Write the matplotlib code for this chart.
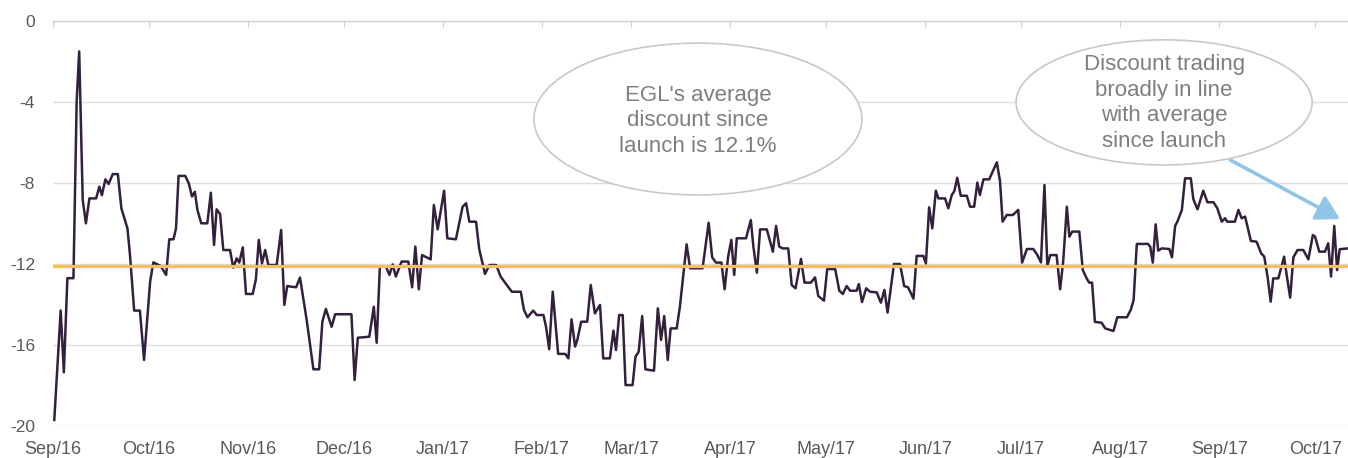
import matplotlib
matplotlib.use("Agg")
import matplotlib.pyplot as plt
from matplotlib.patches import Ellipse
import numpy as np
import pandas as pd

# Data: days since 1 Sep 2016, discount to NAV (%)
START = pd.Timestamp("2016-09-01")
days = [
    0.4, 2.4, 3.4, 4.5, 6.4, 7.4, 8.2, 9.3, 10.3, 11.4, 13.5, 14.5, 15.3, 16.4, 17.4,
    18.7, 20.3, 21.4, 23.3, 24.1, 25.4, 27.2, 28.5, 30.4, 31.4, 33.7, 35.4, 36.4, 37.7,
    38.5, 39.3, 41.4, 42.5, 43.5, 44.4, 45.2, 46.4, 48.3, 49.4, 50.4, 51.2, 52.3, 53.3,
    55.4, 56.4, 57.5, 58.3, 59.4, 60.4, 62.5, 63.5, 64.4, 65.4, 66.4, 67.4, 70.0, 71.4,
    72.4, 73.3, 76.1, 77.3, 79.4, 81.5, 83.3, 84.3, 85.4, 87.2, 88.3, 93.4, 94.4, 95.4,
    99.0, 100.4, 101.3, 102.3, 104.2, 105.3, 106.3, 107.3, 109.1, 111.2, 112.4, 113.4,
    114.5, 115.5, 118.2, 119.2, 120.4, 122.4, 123.4, 126.1, 128.2, 129.3, 130.3, 132.4,
    133.4, 135.2, 136.6, 138.7, 140.1, 141.8, 143.6, 146.4, 147.4, 148.5, 150.3, 151.4,
    153.5, 154.3, 155.3, 156.4, 158.1, 160.3, 161.3, 162.3, 163.4, 164.1, 165.3, 167.2,
    168.3, 169.6, 171.2, 172.2, 174.3, 175.4, 176.2, 177.2, 178.3, 179.2, 181.4, 182.3,
    183.3, 184.4, 185.4, 188.1, 189.3, 190.3, 191.3, 192.4, 193.3, 195.2, 196.2, 198.3,
    199.4, 203.3, 205.2, 206.3, 207.5, 209.2, 210.2, 211.3, 212.3, 213.2, 214.0, 216.9,
    218.4, 219.2, 220.3, 221.3, 223.4, 225.3, 226.3, 227.3, 228.4, 230.1, 231.2, 232.4,
    234.1, 235.2, 237.2, 238.5, 239.5, 241.3, 242.3, 244.8, 246.1, 247.2, 248.4, 249.5,
    251.5, 252.2, 253.2, 254.5, 255.7, 257.8, 259.1, 260.2, 261.2, 263.2, 265.1, 266.4,
    267.6, 269.3, 270.3, 272.4, 273.2, 274.2, 275.2, 276.3, 277.1, 279.2, 280.2, 281.3,
    282.1, 283.0, 284.1, 286.0, 287.0, 288.3, 289.3, 290.1, 291.2, 293.0, 294.1, 295.4,
    296.4, 297.2, 298.5, 300.4, 302.1, 303.3, 304.8, 306.8, 308.1, 309.2, 310.3, 311.2,
    312.1, 314.1, 315.2, 316.2, 317.3, 318.1, 319.0, 321.2, 322.3, 323.5, 324.3, 325.2,
    326.1, 328.2, 329.3, 331.9, 333.1, 336.1, 337.3, 338.2, 339.2, 341.5, 342.6, 343.4,
    344.2, 345.1, 345.9, 347.0, 349.4, 350.2, 351.2, 351.9, 353.3, 354.3, 356.1, 356.9,
    358.2, 360.0, 361.3, 363.2, 364.4, 365.8, 366.8, 367.5, 369.9, 371.0, 372.0, 373.1,
    374.9, 376.7, 378.1, 379.1, 380.2, 381.1, 381.9, 383.5, 385.3, 386.1, 387.2, 388.2,
    389.5, 391.3, 392.9, 394.3, 395.0, 396.3, 398.1, 399.1, 400.0, 401.0, 401.9, 402.7,
    405.2,
]
discount = [
    -19.7, -14.3, -17.35, -12.7, -12.7, -4.0, -1.5, -8.84, -9.99, -8.76, -8.76, -8.18,
    -8.6, -7.82, -8.05, -7.56, -7.56, -9.25, -10.24, -11.56, -14.3, -14.3, -16.74,
    -12.87, -11.92, -12.1, -12.54, -10.78, -10.78, -10.24, -7.65, -7.65, -8.02, -8.67,
    -8.43, -9.33, -9.99, -9.99, -8.48, -11.06, -9.3, -9.53, -11.31, -11.31, -12.18,
    -11.72, -11.93, -11.18, -13.48, -13.48, -12.76, -10.81, -11.97, -11.31, -12.05,
    -12.05, -10.32, -14.02, -13.09, -13.15, -12.67, -14.77, -17.2, -17.2, -14.85,
    -14.22, -15.1, -14.48, -14.48, -17.73, -15.64, -15.59, -14.11, -15.89, -12.13,
    -12.13, -12.54, -12.02, -12.62, -11.88, -11.88, -13.15, -11.14, -13.25, -11.56,
    -11.77, -9.09, -10.29, -8.38, -10.73, -10.78, -9.17, -9.0, -9.91, -9.91, -11.27,
    -12.49, -12.05, -12.05, -12.62, -12.99, -13.37, -13.37, -14.27, -14.63, -14.3,
    -14.52, -14.52, -15.1, -16.21, -13.37, -16.44, -16.44, -16.66, -14.73, -16.08,
    -15.75, -14.85, -14.85, -13.04, -14.44, -14.02, -16.66, -16.66, -15.29, -16.25,
    -14.52, -14.52, -17.98, -17.98, -16.58, -16.33, -14.57, -17.2, -17.27, -14.19,
    -15.75, -14.57, -16.74, -15.18, -15.18, -14.11, -11.03, -12.21, -12.21, -9.96,
    -11.67, -11.93, -11.93, -13.25, -11.64, -10.81, -12.54, -10.73, -10.73, -9.83,
    -11.14, -12.43, -10.29, -10.29, -11.39, -10.12, -11.14, -11.23, -11.23, -13.04,
    -13.2, -11.75, -12.92, -12.92, -12.66, -13.58, -13.81, -12.25, -12.25, -13.32,
    -13.48, -13.09, -13.32, -13.32, -12.99, -13.88, -13.2, -13.37, -13.4, -13.91,
    -13.28, -14.4, -12.0, -12.0, -13.09, -13.15, -13.71, -11.6, -11.6, -11.97, -9.2,
    -10.24, -8.38, -8.76, -8.76, -9.25, -8.59, -8.4, -7.74, -8.63, -8.63, -9.17,
    -9.17, -7.98, -8.59, -7.82, -7.82, -7.44, -6.98, -7.93, -9.91, -9.58, -9.58,
    -9.33, -11.93, -11.26, -11.26, -11.56, -11.92, -8.1, -12.1, -11.56, -11.56,
    -13.25, -11.8, -9.17, -10.65, -10.4, -10.4, -12.3, -12.71, -12.92, -12.92,
    -14.86, -14.9, -15.18, -15.31, -14.63, -14.63, -14.27, -13.78, -11.01, -11.01,
    -11.0, -11.14, -11.93, -10.04, -11.34, -11.23, -11.26, -11.67, -10.12, -9.91,
    -9.33, -7.77, -7.77, -8.8, -9.3, -8.38, -8.95, -8.95, -9.25, -9.91, -9.74, -9.91,
    -9.91, -9.33, -9.74, -9.66, -10.86, -10.9, -11.47, -11.64, -12.71, -13.86,
    -12.71, -12.71, -11.64, -12.54, -13.66, -11.67, -11.31, -11.31, -11.77, -10.57,
    -10.65, -11.39, -11.39, -10.98, -12.62, -10.12, -12.3, -11.27, -11.23,
]
AVERAGE = -12.1
X_END_DAY = 405.3

month_ticks = pd.date_range("2016-09-01", "2017-10-01", freq="MS")
month_labels = [d.strftime("%b/%y") for d in month_ticks]

dates = START + pd.to_timedelta(days, unit="D")

plt.rcParams["font.family"] = ["Liberation Sans", "DejaVu Sans"]
plt.rcParams["axes.unicode_minus"] = False

fig = plt.figure(figsize=(13.48, 4.58), dpi=100)
ax = fig.add_axes([53 / 1348, 32 / 458, 1295 / 1348, 405 / 458])

ax.plot(dates, discount, color="#33203d", linewidth=1.8, zorder=3)
ax.axhline(AVERAGE, color="#FCC632", linewidth=2.3, zorder=4)

ax.set_ylim(-20, 0)
ax.set_yticks(np.arange(-20, 1, 4))
ax.set_xlim(START, START + pd.Timedelta(days=X_END_DAY))
ax.set_xticks(month_ticks)
ax.set_xticklabels(month_labels)

ax.grid(axis="y", color="#dedede", linewidth=1.0, zorder=0)
ax.set_axisbelow(True)
for side in ["left", "right", "bottom"]:
    ax.spines[side].set_visible(False)
ax.spines["top"].set_color("#d0d0d0")
ax.spines["top"].set_linewidth(1.0)

ax.tick_params(axis="x", bottom=False, top=True, labelbottom=True, labeltop=False,
               direction="in", length=4, color="#d0d0d0", labelsize=13,
               labelcolor="#595959", pad=11)
ax.tick_params(axis="y", length=0, labelsize=12.5, labelcolor="#595959", pad=13)

# Callouts
e1 = Ellipse((0.498, 0.758), 0.2533, 0.375, transform=ax.transAxes,
             facecolor="white", edgecolor="#c8c8c8", linewidth=1.2, zorder=5)
ax.add_patch(e1)
ax.text(0.498, 0.754, "EGL's average\ndiscount since\nlaunch is 12.1%",
        transform=ax.transAxes, ha="center", va="center", fontsize=16,
        color="#7f7f7f", linespacing=1.28, zorder=6)

ax.annotate("", xy=(0.9938, 0.511), xytext=(0.909, 0.657),
            xycoords="axes fraction", textcoords="axes fraction",
            arrowprops=dict(arrowstyle="-|>,head_width=0.4,head_length=0.7",
                            mutation_scale=20, color="#8EC5E8", lw=2.6,
                            shrinkA=0, shrinkB=0), zorder=5)

e2 = Ellipse((0.858, 0.799), 0.2286, 0.309, transform=ax.transAxes,
             facecolor="white", edgecolor="#c8c8c8", linewidth=1.2, zorder=5)
ax.add_patch(e2)
ax.text(0.858, 0.797, "Discount trading\nbroadly in line\nwith average\nsince launch",
        transform=ax.transAxes, ha="center", va="center", fontsize=16,
        color="#7f7f7f", linespacing=1.28, zorder=6)

fig.savefig("out.png", dpi=100)
